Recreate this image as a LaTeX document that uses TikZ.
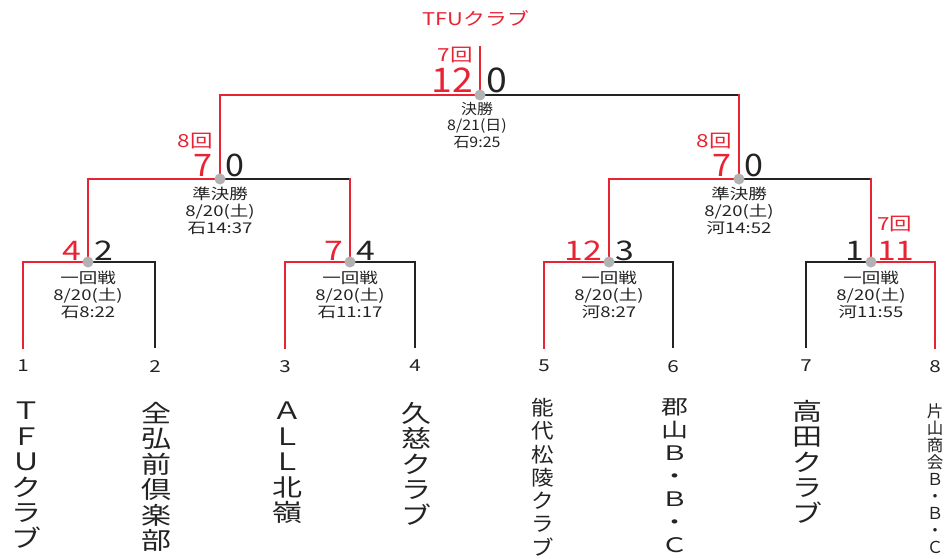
\documentclass[tikz,border=0pt]{standalone}
\usepackage{fontspec}
\setmainfont{Noto Sans CJK JP}
\newfontfamily\jpn{Noto Sans CJK JP}
\newfontfamily\jpx[FakeStretch=1.1]{Noto Sans CJK JP}
\newfontfamily\jpy[FakeStretch=1.25]{Noto Sans CJK JP}
\newfontfamily\jpz[FakeStretch=1.35]{Noto Sans CJK JP}
\usetikzlibrary{backgrounds}
\definecolor{wred}{RGB}{232,36,52}
\definecolor{lblack}{RGB}{35,35,35}
\definecolor{dotgray}{RGB}{178,178,178}
\begin{document}
\begin{tikzpicture}[x=1pt,y=-1pt,
  redline/.style={draw=wred, line width=2.6pt, line cap=rect},
  blkline/.style={draw=lblack, line width=1.8pt},
  matchdot/.style={circle, fill=dotgray, inner sep=0pt, minimum size=11pt},
  teamnum/.style={anchor=north, inner xsep=0pt, inner ysep=12pt, text=lblack, font=\jpy\fontsize{16.5}{16.5}\selectfont},
  vname/.style={anchor=north, align=center, inner sep=0pt, text=lblack},
  fscore/.style={inner sep=0pt, font=\jpx\fontsize{34}{34}\selectfont},
  sscore/.style={inner sep=0pt, font=\jpx\fontsize{31}{31}\selectfont},
  mscore/.style={inner sep=0pt, font=\jpy\fontsize{27}{27}\selectfont},
  kai/.style={inner sep=0pt, text=wred, font=\jpy\fontsize{18}{18}\selectfont},
  flabel/.style={anchor=north, align=center, inner sep=0pt, text=lblack, font=\jpx\fontsize{14.5}{16.5}\selectfont},
  mlabel/.style={anchor=north, align=center, inner sep=0pt, text=lblack, font=\jpy\fontsize{14.8}{17}\selectfont},
  champstyle/.style={inner sep=0pt, text=wred, font=\jpy\fontsize{17.5}{17.5}\selectfont}
]
\useasboundingbox (0,0) rectangle (947,559);

% match points
\node[matchdot] (f) at (480,95) {};
\node[matchdot] (s1) at (220,179) {};
\node[matchdot] (s2) at (739,179) {};
\node[matchdot] (m1) at (88,262) {};
\node[matchdot] (m2) at (350,262) {};
\node[matchdot] (m3) at (609,262) {};
\node[matchdot] (m4) at (871,262) {};

% team numbers
\node[teamnum] (n1) at (23,348) {1};
\node[teamnum] (n2) at (155,348) {2};
\node[teamnum] (n3) at (285,348) {3};
\node[teamnum] (n4) at (415,348) {4};
\node[teamnum] (n5) at (544,348) {5};
\node[teamnum] (n6) at (673,348) {6};
\node[teamnum] (n7) at (806,348) {7};
\node[teamnum] (n8) at (935,348) {8};

% team names
\node[vname, font=\jpy\fontsize{24}{25.5}\selectfont] (t1) at (26,402) {Ｔ\\Ｆ\\Ｕ\\ク\\ラ\\ブ};
\node[vname, font=\jpy\fontsize{24}{25.5}\selectfont] (t2) at (156,402) {全\\弘\\前\\倶\\楽\\部};
\node[vname, font=\jpy\fontsize{24}{25.5}\selectfont] (t3) at (287,402) {Ａ\\Ｌ\\Ｌ\\北\\嶺};
\node[vname, font=\jpy\fontsize{24}{25.5}\selectfont] (t4) at (416,402) {久\\慈\\ク\\ラ\\ブ};
\node[vname, font=\jpx\fontsize{20.5}{23.3}\selectfont] (t5) at (543,398) {能\\代\\松\\陵\\ク\\ラ\\ブ};
\node[vname, font=\jpz\fontsize{20}{23}\selectfont] (t6) at (675,398) {郡\\山\\Ｂ\\・\\Ｂ\\・\\Ｃ};
\node[vname, font=\jpy\fontsize{24}{25.5}\selectfont] (t7) at (807,400) {高\\田\\ク\\ラ\\ブ};
\node[vname, font=\jpn\fontsize{16.5}{17}\selectfont] (t8) at (935,403) {片\\山\\商\\会\\Ｂ\\・\\Ｂ\\・\\Ｃ};

% champion
\node[champstyle] (champ) at (476,18) {TFUクラブ};
\coordinate (ctop) at (480,47);

% scores
\node[fscore, text=wred, anchor=base east] (fw) at ([xshift=-7pt,yshift=2pt]f.center) {12};
\node[fscore, text=lblack, anchor=base west] (fl) at ([xshift=6pt,yshift=2pt]f.center) {0};
\node[kai, anchor=base east] (fk) at ([xshift=-7pt,yshift=33pt]f.center) {7回};

\node[sscore, text=wred, anchor=base east] (s1w) at ([xshift=-7pt,yshift=3pt]s1.center) {7};
\node[sscore, text=lblack, anchor=base west] (s1l) at ([xshift=5pt,yshift=3pt]s1.center) {0};
\node[kai, anchor=base east] (s1k) at ([xshift=-7pt,yshift=32pt]s1.center) {8回};

\node[sscore, text=wred, anchor=base east] (s2w) at ([xshift=-7pt,yshift=3pt]s2.center) {7};
\node[sscore, text=lblack, anchor=base west] (s2l) at ([xshift=5pt,yshift=3pt]s2.center) {0};
\node[kai, anchor=base east] (s2k) at ([xshift=-7pt,yshift=32pt]s2.center) {8回};

\node[mscore, text=wred, anchor=base east] (m1w) at ([xshift=-7pt,yshift=2pt]m1.center) {4};
\node[mscore, text=lblack, anchor=base west] (m1l) at ([xshift=6pt,yshift=2pt]m1.center) {2};
\node[mscore, text=wred, anchor=base east] (m2w) at ([xshift=-7pt,yshift=2pt]m2.center) {7};
\node[mscore, text=lblack, anchor=base west] (m2l) at ([xshift=6pt,yshift=2pt]m2.center) {4};
\node[mscore, text=wred, anchor=base east] (m3w) at ([xshift=-7pt,yshift=2pt]m3.center) {12};
\node[mscore, text=lblack, anchor=base west] (m3l) at ([xshift=6pt,yshift=2pt]m3.center) {3};
\node[mscore, text=lblack, anchor=base east] (m4l) at ([xshift=-7pt,yshift=2pt]m4.center) {1};
\node[mscore, text=wred, anchor=base west] (m4w) at ([xshift=6pt,yshift=2pt]m4.center) {11};
\node[kai, anchor=base west] (m4k) at ([xshift=6pt,yshift=32pt]m4.center) {7回};

% match labels
\node[flabel] (ft) at ([xshift=-3pt,yshift=-7pt]f.center) {決勝\\8/21(日)\\石9:25};
\node[mlabel] (s1t) at ([yshift=-8pt]s1.center) {準決勝\\8/20(土)\\石14:37};
\node[mlabel] (s2t) at ([yshift=-8pt]s2.center) {準決勝\\8/20(土)\\河14:52};
\node[mlabel] (m1t) at ([yshift=-9pt]m1.center) {一回戦\\8/20(土)\\石8:22};
\node[mlabel] (m2t) at ([yshift=-9pt]m2.center) {一回戦\\8/20(土)\\石11:17};
\node[mlabel] (m3t) at ([yshift=-9pt]m3.center) {一回戦\\8/20(土)\\河8:27};
\node[mlabel] (m4t) at ([yshift=-9pt]m4.center) {一回戦\\8/20(土)\\河11:55};

\begin{pgfonlayer}{background}
\fill[white] (0,0) rectangle (947,559);
% black (losing) paths
\draw[blkline] (f.center) -- (f.center -| s2.center);
\draw[blkline] (s1.center) -- (s1.center -| m2.center);
\draw[blkline] (s2.center) -- (s2.center -| m4.center);
\draw[blkline] (m1.center) -| (n2.north);
\draw[blkline] (m2.center) -| (n4.north);
\draw[blkline] (m3.center) -| (n6.north);
\draw[blkline] (m4.center) -| (n7.north);
% red (winning) paths
\draw[redline] (ctop) -- (f.center);
\draw[redline] (f.center) -| (s1.center);
\draw[redline] (f.center -| s2.center) -- (s2.center);
\draw[redline] (s1.center) -| (m1.center);
\draw[redline] (s1.center -| m2.center) -- (m2.center);
\draw[redline] (s2.center) -| (m3.center);
\draw[redline] (s2.center -| m4.center) -- (m4.center);
\draw[redline] (m1.center) -| (n1.north);
\draw[redline] (m2.center) -| (n3.north);
\draw[redline] (m3.center) -| (n5.north);
\draw[redline] (m4.center) -| (n8.north);
\end{pgfonlayer}
\end{tikzpicture}
\end{document}
